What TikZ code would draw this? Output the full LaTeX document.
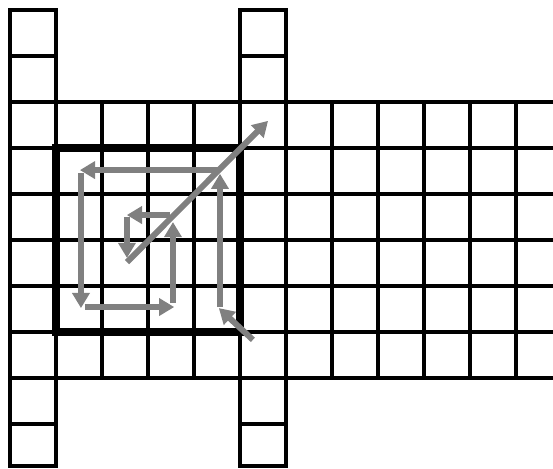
\documentclass[tikz,border=0pt]{standalone}
\usetikzlibrary{arrows.meta}
\definecolor{spiralgray}{RGB}{128,128,128}

\begin{document}
\begin{tikzpicture}[grid/.style={line width=0.105cm, line cap=rect},
  walk/.style={spiralgray, line width=0.13cm, -{Triangle[length=3.3mm,width=3.7mm]}}]
\useasboundingbox (-0.217,0.217) rectangle (11.804,-9.957);
\clip (-0.217,0.217) rectangle (11.804,-9.957);
% 			horizontal band
			\begin{scope}[grid]
			\foreach \y in {-2,...,-8}
			\draw (0,\y)--(12.5,\y);
			\foreach \x in {0,...,12}
			\draw (\x,-2)--(\x,-8);
% 			the two vertical strips
			\foreach \x in {0,5}
			{
			\draw (\x,0)--(\x,-9.913);
			\draw (\x+1,0)--(\x+1,-9.913);
			\foreach \y in {0,-1,-9,-9.913}
			\draw (\x,\y)--(\x+1,\y);
			}
			\end{scope}
			\draw[line width=0.19cm] (1,-3) rectangle (5,-7);

% 			spiral walk
			\coordinate (a0) at (5.28,-7.17);
			\coordinate (a1) at (4.54,-6.48);
			\coordinate (b0) at (4.565,-6.46);
			\coordinate (b1) at (4.565,-3.56);
			\coordinate (c0) at (4.565,-3.48);
			\coordinate (c1) at (1.52,-3.48);
			\coordinate (d0) at (1.543,-3.54);
			\coordinate (d1) at (1.543,-6.48);
			\coordinate (e0) at (1.63,-6.457);
			\coordinate (e1) at (3.57,-6.457);
			\coordinate (f0) at (3.543,-6.37);
			\coordinate (f1) at (3.543,-4.61);
			\coordinate (g0) at (3.48,-4.457);
			\coordinate (g1) at (2.54,-4.457);
			\coordinate (h0) at (2.543,-4.5);
			\coordinate (h1) at (2.543,-5.39);
			\coordinate (k0) at (2.543,-5.48);
			\coordinate (k1) at (5.61,-2.41);
			\begin{scope}[walk]
			\draw (a0)--(a1);
			\draw (b0)--(b1);
			\draw (c0)--(c1);
			\draw (d0)--(d1);
			\draw (e0)--(e1);
			\draw (f0)--(f1);
			\draw (g0)--(g1);
			\draw (h0)--(h1);
			\draw (k0)--(k1);
			\end{scope}
\end{tikzpicture}
\end{document}
